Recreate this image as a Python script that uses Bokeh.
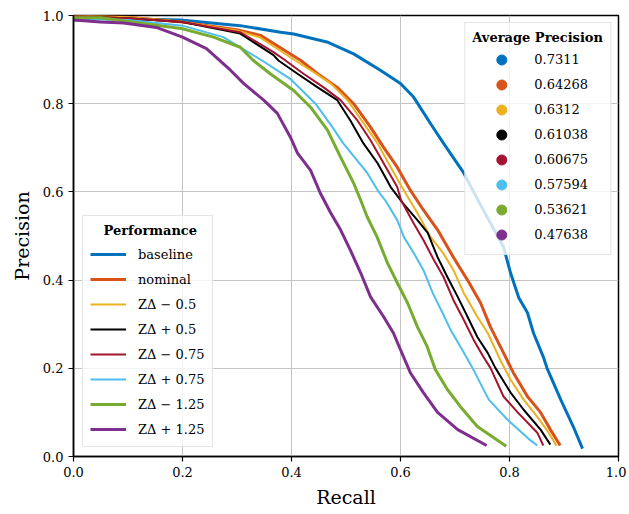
from bokeh.plotting import figure
from bokeh.models import Range1d, Legend, LegendItem, FixedTicker
from bokeh.embed import file_html
from bokeh.resources import INLINE

# ---------------- data ----------------
rec_baseline = [0, 0.05, 0.196, 0.306, 0.38, 0.404, 0.465, 0.514, 0.563, 0.6, 0.624, 0.655, 0.679, 0.716,
                0.747, 0.789, 0.802, 0.817, 0.833, 0.844, 0.862, 0.869, 0.894, 0.917, 0.934]
prec_baseline = [0.99, 0.993, 0.99, 0.977, 0.962, 0.958, 0.94, 0.913, 0.876, 0.846, 0.815, 0.755, 0.71, 0.643,
                 0.57, 0.475, 0.416, 0.36, 0.326, 0.28, 0.226, 0.2, 0.129, 0.068, 0.018]

rec_nominal = [0, 0.1, 0.2, 0.3, 0.343, 0.417, 0.448, 0.484, 0.514, 0.545, 0.569, 0.594, 0.618, 0.642, 0.668,
               0.697, 0.723, 0.747, 0.765, 0.789, 0.807, 0.833, 0.857, 0.875, 0.893]
prec_nominal = [1.0, 0.996, 0.985, 0.968, 0.955, 0.898, 0.868, 0.837, 0.80, 0.747, 0.701, 0.656, 0.604, 0.559,
                0.514, 0.452, 0.40, 0.348, 0.294, 0.235, 0.19, 0.136, 0.10, 0.061, 0.025]

rec_m05 = [0, 0.1, 0.2, 0.3, 0.343, 0.407, 0.435, 0.472, 0.503, 0.532, 0.558, 0.582, 0.606, 0.631, 0.655, 0.679,
           0.697, 0.716, 0.741, 0.76, 0.783, 0.802, 0.826, 0.851, 0.872, 0.886]
prec_m05 = [1.0, 0.996, 0.985, 0.966, 0.95, 0.898, 0.876, 0.846, 0.808, 0.756, 0.71, 0.656, 0.604, 0.552, 0.498,
            0.46, 0.423, 0.371, 0.317, 0.28, 0.219, 0.174, 0.129, 0.09, 0.054, 0.025]

rec_p05 = [0, 0.1, 0.2, 0.306, 0.367, 0.376, 0.411, 0.448, 0.484, 0.508, 0.532, 0.558, 0.582, 0.604, 0.631,
           0.65, 0.668, 0.686, 0.705, 0.723, 0.741, 0.76, 0.774, 0.802, 0.826, 0.857, 0.875]
prec_p05 = [0.998, 0.994, 0.985, 0.959, 0.91, 0.898, 0.868, 0.837, 0.808, 0.762, 0.71, 0.665, 0.611, 0.575,
            0.536, 0.507, 0.452, 0.407, 0.362, 0.317, 0.271, 0.235, 0.201, 0.145, 0.106, 0.061, 0.027]

rec_m075 = [0, 0.1, 0.2, 0.306, 0.367, 0.389, 0.422, 0.459, 0.49, 0.521, 0.545, 0.569, 0.594, 0.601, 0.624,
            0.642, 0.661, 0.679, 0.697, 0.716, 0.734, 0.752, 0.765, 0.789, 0.815, 0.851, 0.862]
prec_m075 = [0.998, 0.994, 0.985, 0.962, 0.917, 0.898, 0.868, 0.837, 0.808, 0.762, 0.717, 0.665, 0.611, 0.581,
             0.529, 0.491, 0.446, 0.407, 0.355, 0.31, 0.265, 0.226, 0.201, 0.136, 0.10, 0.054, 0.025]

rec_p075 = [0, 0.1, 0.2, 0.275, 0.346, 0.399, 0.444, 0.475, 0.495, 0.539, 0.56, 0.572, 0.594, 0.606, 0.624,
            0.642, 0.659, 0.677, 0.692, 0.71, 0.732, 0.762, 0.796, 0.835, 0.851]
prec_p075 = [0.993, 0.99, 0.977, 0.951, 0.898, 0.855, 0.80, 0.747, 0.71, 0.643, 0.60, 0.581, 0.536, 0.498,
             0.462, 0.423, 0.371, 0.326, 0.287, 0.249, 0.201, 0.129, 0.084, 0.04, 0.025]

rec_m125 = [0, 0.05, 0.2, 0.257, 0.306, 0.33, 0.361, 0.404, 0.435, 0.466, 0.49, 0.514, 0.527, 0.539, 0.557,
            0.576, 0.594, 0.613, 0.631, 0.649, 0.664, 0.686, 0.71, 0.741, 0.794]
prec_m125 = [0.995, 0.995, 0.97, 0.951, 0.928, 0.898, 0.868, 0.83, 0.792, 0.74, 0.679, 0.62, 0.581, 0.543,
             0.498, 0.439, 0.394, 0.348, 0.294, 0.249, 0.197, 0.152, 0.113, 0.068, 0.023]

rec_p125 = [0, 0.05, 0.092, 0.152, 0.2, 0.244, 0.288, 0.312, 0.349, 0.374, 0.398, 0.411, 0.435, 0.453, 0.472,
            0.49, 0.508, 0.527, 0.545, 0.569, 0.587, 0.6, 0.618, 0.642, 0.668, 0.705, 0.758]
prec_p125 = [0.99, 0.985, 0.983, 0.973, 0.951, 0.925, 0.876, 0.846, 0.808, 0.778, 0.724, 0.688, 0.649, 0.597,
             0.552, 0.514, 0.468, 0.416, 0.362, 0.317, 0.28, 0.242, 0.19, 0.145, 0.10, 0.061, 0.025]

series_labels = ["baseline", "nominal", "ZΔ − 0.5", "ZΔ + 0.5", "ZΔ − 0.75", "ZΔ + 0.75",
                 "ZΔ − 1.25", "ZΔ + 1.25"]
avg_precision = ["0.7311", "0.64268", "0.6312", "0.61038", "0.60675", "0.57594", "0.53621", "0.47638"]
colors = ["#0072BD", "#D95319", "#EDB120", "#000000", "#A2142F", "#4DBEEE", "#77AC30", "#7E2F8E"]
widths = [3, 3, 2, 2, 2, 2, 3, 3]

x_ticks = [0.0, 0.2, 0.4, 0.6, 0.8, 1.0]
x_tick_labels = ["0.0", "0.2", "0.4", "0.6", "0.8", "1.0"]
y_ticks = [0.0, 0.2, 0.4, 0.6, 0.8, 1.0]
y_tick_labels = ["0.0", "0.2", "0.4", "0.6", "0.8", "1.0"]

recalls = [rec_baseline, rec_nominal, rec_m05, rec_p05, rec_m075, rec_p075, rec_m125, rec_p125]
precisions = [prec_baseline, prec_nominal, prec_m05, prec_p05, prec_m075, prec_p075, prec_m125, prec_p125]

FONT = "DejaVu Serif"

p = figure(width=626, height=510, output_backend="svg", toolbar_location=None,
           x_range=Range1d(0, 1), y_range=Range1d(0, 1),
           min_border_left=73, min_border_right=8, min_border_top=15, min_border_bottom=53)

p.xaxis.ticker = FixedTicker(ticks=x_ticks)
p.yaxis.ticker = FixedTicker(ticks=y_ticks)
p.xaxis.major_label_overrides = {t: l for t, l in zip(x_ticks, x_tick_labels)}
p.yaxis.major_label_overrides = {t: l for t, l in zip(y_ticks, y_tick_labels)}
p.xaxis.axis_label = "Recall"
p.yaxis.axis_label = "Precision"
for ax in (p.xaxis, p.yaxis):
    ax.axis_label_text_font = FONT
    ax.axis_label_text_font_size = "19px"
    ax.axis_label_text_font_style = "normal"
    ax.axis_label_text_color = "black"
    ax.major_label_text_font = FONT
    ax.major_label_text_font_size = "13px"
    ax.major_label_text_color = "black"
    ax.axis_line_width = 1.5
    ax.axis_line_color = "black"
    ax.major_tick_line_color = "black"
    ax.major_tick_line_width = 1.2
    ax.major_tick_out = 5
    ax.major_tick_in = 0
    ax.minor_tick_line_color = None
p.xaxis.axis_label_standoff = 6
p.yaxis.axis_label_standoff = 7

p.outline_line_color = "black"
p.outline_line_width = 1.5
p.grid.grid_line_color = "#c4c4c4"
p.grid.grid_line_width = 1
p.background_fill_color = "white"

line_items = []
dot_items = []
for r, pr, c, w, lab, ap in zip(recalls, precisions, colors, widths, series_labels, avg_precision):
    rl = p.line(r, pr, line_color=c, line_width=w, line_join="round")
    line_items.append(LegendItem(label=lab, renderers=[rl]))
    rd = p.scatter(x=[float("nan")], y=[float("nan")], marker="circle", size=11,
                   fill_color=c, line_color=c)
    dot_items.append(LegendItem(label=ap, renderers=[rd]))


def style_legend(lg):
    lg.label_text_font = FONT
    lg.label_text_font_size = "13px"
    lg.label_text_color = "black"
    lg.title_text_font = FONT
    lg.title_text_font_size = "13px"
    lg.title_text_font_style = "bold"
    lg.title_text_color = "black"
    lg.border_line_color = "#cccccc"
    lg.border_line_width = 1
    lg.background_fill_color = "white"
    lg.background_fill_alpha = 0.8


perf = Legend(items=line_items, title="   Performance", location="bottom_left")
style_legend(perf)
perf.margin = 9
perf.padding = 7
perf.glyph_width = 36
perf.glyph_height = 20
perf.label_height = 20
perf.spacing = 5
perf.label_standoff = 12
perf.title_standoff = 6

apl = Legend(items=dot_items, title="Average Precision", location="top_right")
style_legend(apl)
apl.margin = 7
apl.padding = 7
apl.glyph_width = 58
apl.glyph_height = 25
apl.label_height = 25
apl.spacing = 0
apl.label_standoff = 4
apl.title_standoff = 2

p.add_layout(perf, "center")
p.add_layout(apl, "center")

open("out.html", "w").write(file_html(p, INLINE))
